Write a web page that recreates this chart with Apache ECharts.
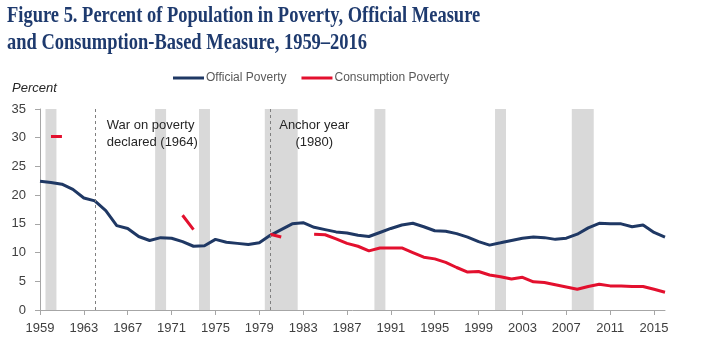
<!DOCTYPE html>
<html><head><meta charset="utf-8">
<script src="https://cdn.jsdelivr.net/npm/echarts/dist/echarts.min.js"></script>
<style>html,body{margin:0;padding:0;background:#fff}#c{width:709px;height:354px}</style>
</head><body><div id="c"></div>
<script>
const years = ['1959','1960','1961','1962','1963','1964','1965','1966','1967','1968','1969','1970','1971','1972','1973','1974','1975','1976','1977','1978','1979','1980','1981','1982','1983','1984','1985','1986','1987','1988','1989','1990','1991','1992','1993','1994','1995','1996','1997','1998','1999','2000','2001','2002','2003','2004','2005','2006','2007','2008','2009','2010','2011','2012','2013','2014','2015','2016'];
const officialPoverty = [22.4,22.2,21.9,21.0,19.5,19.0,17.3,14.7,14.2,12.8,12.1,12.6,12.5,11.9,11.1,11.2,12.3,11.8,11.6,11.4,11.7,13.0,14.0,15.0,15.2,14.4,14.0,13.6,13.4,13.0,12.8,13.5,14.2,14.8,15.1,14.5,13.8,13.7,13.3,12.7,11.9,11.3,11.7,12.1,12.5,12.7,12.6,12.3,12.5,13.2,14.3,15.1,15.0,15.0,14.5,14.8,13.5,12.7];
const consumptionPoverty = [null,30.2,30.2,null,null,null,null,null,null,null,null,null,null,16.5,14.0,null,null,null,null,null,null,13.2,12.7,null,null,13.2,13.1,12.4,11.6,11.1,10.3,10.8,10.8,10.8,10.0,9.2,8.9,8.3,7.4,6.6,6.7,6.1,5.8,5.4,5.7,4.9,4.8,4.4,4.0,3.6,4.1,4.5,4.2,4.2,4.1,4.1,3.6,3.1];
const recessionStart = [1959.5,1969.5,1973.5,1979.5,1989.5,2000.5,2007.5];
const recessionEnd   = [1960.5,1970.5,1974.5,1982.5,1990.5,2001.5,2009.5];
const markerYears = ['1964','1980'];
const markerTexts = ['War on poverty\ndeclared (1964)','Anchor year\n(1980)'];
const seriesNames = ['Official Poverty','Consumption Poverty'];
const titleLines = ['Figure 5. Percent of Population in Poverty, Official Measure','and Consumption-Based Measure, 1959\u20132016'];
const yAxisName = 'Percent';

const chart = echarts.init(document.getElementById('c'), null, {renderer:'canvas'});
const axisGrey = '#a6a6a6';
const labelColor = '#404040';
const font = 'Liberation Sans';
chart.setOption({
  animation:false,
  grid:{left:40,right:44,top:109,bottom:44},
  legend:{data:seriesNames,left:173,top:72,padding:0,itemWidth:31,itemHeight:3,itemGap:15,icon:'rect',
    textStyle:{color:'#595959',fontSize:12,fontFamily:font,padding:[0,0,0,-3]}},
  xAxis:[
    {type:'category',data:years,boundaryGap:false,
     axisLine:{lineStyle:{color:axisGrey,width:1}},
     axisTick:{interval:3,length:5,lineStyle:{color:axisGrey}},
     axisLabel:{interval:3,color:labelColor,fontSize:13,fontFamily:font,margin:12},
     splitLine:{show:false}},
    {type:'value',min:1959,max:2016,show:false,splitLine:{show:false}}
  ],
  yAxis:{type:'value',min:0,max:35,interval:5,
    axisLine:{show:true,lineStyle:{color:axisGrey}},
    axisTick:{show:true,length:5,lineStyle:{color:axisGrey}},
    axisLabel:{color:labelColor,fontSize:13,fontFamily:font,margin:14},
    splitLine:{show:false}},
  series:[
    {type:'line',xAxisIndex:1,data:[],silent:true,z:1,
     markArea:{silent:true,itemStyle:{color:'#d9d9d9'},
       data:recessionStart.map((s,i)=>[{xAxis:s},{xAxis:recessionEnd[i]}])}},
    {name:seriesNames[0],type:'line',data:officialPoverty,symbol:'none',z:3,
     lineStyle:{color:'#1f3864',width:3},itemStyle:{color:'#1f3864'},
     markLine:{silent:true,symbol:['none','none'],label:{show:false},
       lineStyle:{color:'#7f7f7f',type:[3,3],width:1},
       data:markerYears.map(y=>({xAxis:y}))}},
    {name:seriesNames[1],type:'line',data:consumptionPoverty,symbol:'none',connectNulls:false,z:4,
     lineStyle:{color:'#e3102e',width:3},itemStyle:{color:'#e3102e'}}
  ]
});

const p0 = chart.convertToPixel({xAxisIndex:0,yAxisIndex:0},[markerYears[0],32.2]);
const p1 = chart.convertToPixel({xAxisIndex:0,yAxisIndex:0},[markerYears[1],32.2]);
const titleStyle = {fontSize:24,fontWeight:'bold',fontFamily:'Liberation Serif',fill:'#1e3a6e',verticalAlign:'middle'};
chart.setOption({graphic:[
  {type:'text',z:100,x:7,y:16,scaleX:0.77,style:Object.assign({text:titleLines[0]},titleStyle)},
  {type:'text',z:100,x:7,y:43,scaleX:0.77,style:Object.assign({text:titleLines[1]},titleStyle)},
  {type:'text',z:100,x:12,y:88,style:{text:yAxisName,fontSize:13,fontStyle:'italic',fontFamily:font,fill:'#262626',verticalAlign:'middle'}},
  {type:'text',z:100,x:p0[0]+12,y:p0[1]-8,style:{text:markerTexts[0],fontSize:13,fontFamily:font,fill:'#262626',lineHeight:17,verticalAlign:'top'}},
  {type:'text',z:100,x:p1[0]+44,y:p1[1]-8,style:{text:markerTexts[1],fontSize:13,fontFamily:font,fill:'#262626',lineHeight:17,align:'center',verticalAlign:'top'}}
]});
</script></body></html>
